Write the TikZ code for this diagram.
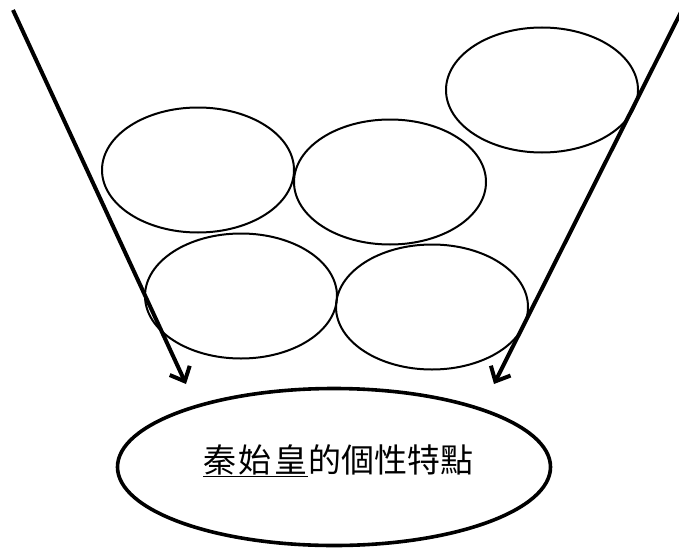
\documentclass[tikz,border=0pt]{standalone}
\usepackage{fontspec}
\newfontfamily\cjk{Noto Sans CJK TC}
\usetikzlibrary{arrows.meta,shapes.geometric}
\begin{document}
\begin{tikzpicture}[x=1pt,y=-1pt,
  bubble/.style={draw,ellipse,line width=2pt,minimum width=192pt,minimum height=125pt,inner sep=0pt},
  arr/.style={line width=4pt,-{Straight Barb[length=12pt,width=22pt,line width=4pt]}}]
\useasboundingbox (0,0) rectangle (679,551);
\node[bubble] (e1) at (198,170) {};
\node[bubble] (e2) at (390,182) {};
\node[bubble] (e3) at (542,90) {};
\node[bubble] (e4) at (241,296) {};
\node[bubble] (e5) at (432,307) {};
\node[draw,ellipse,line width=3.6pt,minimum width=433pt,minimum height=157pt,inner sep=0pt] (main) at (334,467) {};
\node[font=\cjk\fontsize{33}{37}\selectfont] (t) at (338,461) {\underline{秦\hspace{3pt}始\hspace{3pt}皇}的個性特點};
\coordinate (l0) at (13,10);
\coordinate (l1) at (186,384);
\coordinate (r0) at (681,12);
\coordinate (r1) at (494,384);
\draw[arr] (l0) -- (l1);
\draw[arr] (r0) -- (r1);
\end{tikzpicture}
\end{document}
